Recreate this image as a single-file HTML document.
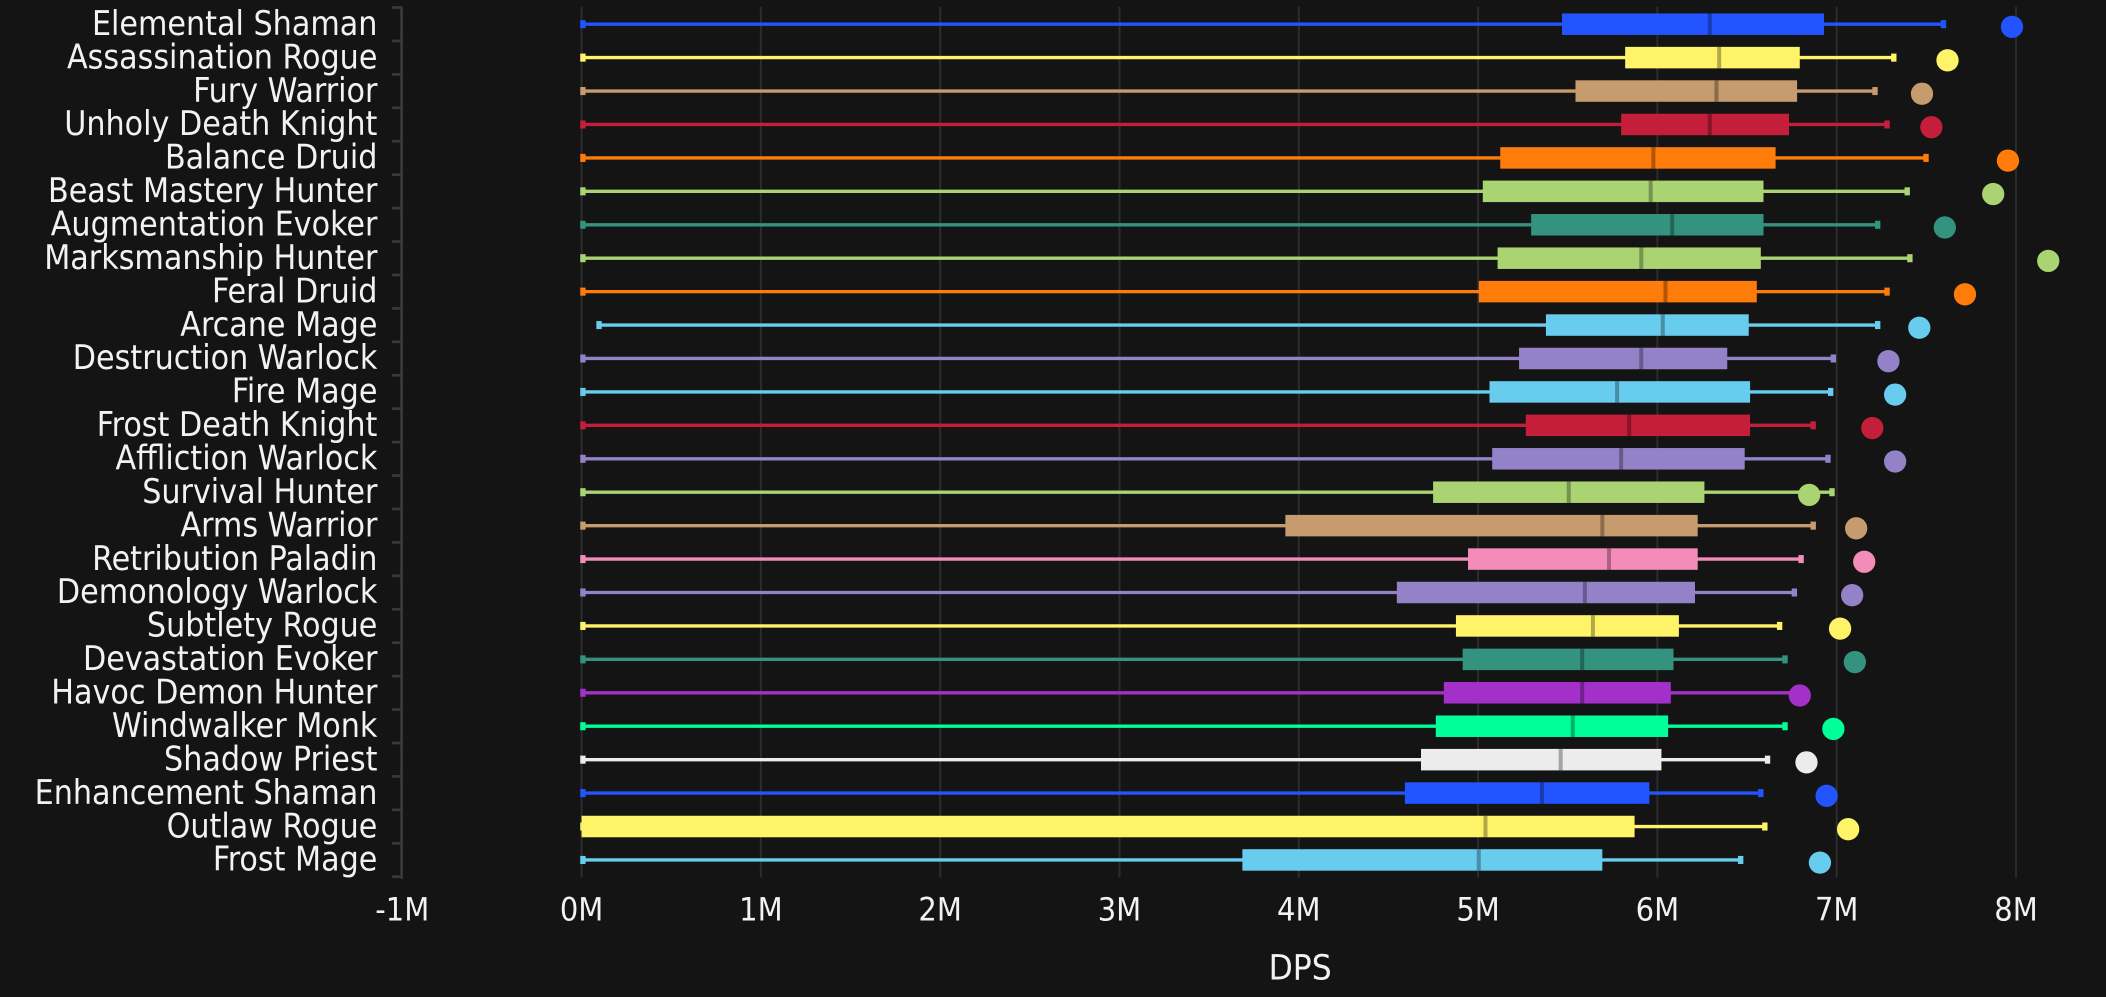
<!DOCTYPE html>
<html><head><meta charset="utf-8"><style>
html,body{margin:0;padding:0;background:#141414;}
svg{display:block;}
text{font-family:"DejaVu Sans Condensed","Liberation Sans Narrow","Liberation Sans",sans-serif;fill:#f2f2f2;}
</style></head><body>
<svg id="s" width="2106" height="997" viewBox="0 0 1568 742" preserveAspectRatio="none" xmlns="http://www.w3.org/2000/svg">
<rect width="1568" height="742" fill="#141414"/>
<g id="g"></g>
</svg>
<script>
const W="#9482c9";
const rows=[
["Elemental Shaman","#2255ff",433,1163,1273,1358,1447,1498],
["Assassination Rogue","#fff468",433,1210,1280,1340,1410,1450],
["Fury Warrior","#c69b6d",433,1173,1278,1338,1396,1431],
["Unholy Death Knight","#c41e3a",433,1207,1273,1332,1405,1438],
["Balance Druid","#ff7c0a",433,1117,1231,1322,1434,1495],
["Beast Mastery Hunter","#aad372",433,1104,1229,1313,1420,1484],
["Augmentation Evoker","#33937f",433,1140,1245,1313,1398,1448],
["Marksmanship Hunter","#aad372",433,1115,1222,1311,1422,1525],
["Feral Druid","#ff7c0a",433,1101,1240,1308,1405,1463],
["Arcane Mage","#68ccef",445,1151,1238,1302,1398,1429],
["Destruction Warlock",W,433,1131,1222,1286,1365,1406],
["Fire Mage","#68ccef",433,1109,1204,1303,1363,1411],
["Frost Death Knight","#c41e3a",433,1136,1213,1303,1350,1394],
["Affliction Warlock",W,433,1111,1207,1299,1361,1411],
["Survival Hunter","#aad372",433,1067,1168,1269,1364,1347],
["Arms Warrior","#c69b6d",433,957,1193,1264,1350,1382],
["Retribution Paladin","#f48cba",433,1093,1198,1264,1341,1388],
["Demonology Warlock",W,433,1040,1180,1262,1336,1379],
["Subtlety Rogue","#fff468",433,1084,1186,1250,1325,1370],
["Devastation Evoker","#33937f",433,1089,1178,1246,1329,1381],
["Havoc Demon Hunter","#a330c9",433,1075,1178,1244,1337,1340],
["Windwalker Monk","#00ff98",433,1069,1171,1242,1329,1365],
["Shadow Priest","#ececec",433,1058,1162,1237,1316,1345],
["Enhancement Shaman","#2255ff",433,1046,1148,1228,1311,1360],
["Outlaw Rogue","#fff468",433,433,1106,1217,1314,1376],
["Frost Mage","#68ccef",433,925,1101,1193,1296,1355]];
let h='';
for(let i=0;i<=8;i++){const x=433+i*133.5;h+=`<line x1="${x}" y1="5" x2="${x}" y2="653" stroke="#2c2c2c" stroke-width="1.5"/>`;}
h+=`<line x1="299" y1="5" x2="299" y2="654" stroke="#3a3a3a" stroke-width="2"/>`;
for(let i=0;i<=26;i++){const y=5.6+i*24.88;h+=`<line x1="292" y1="${y}" x2="299" y2="${y}" stroke="#3a3a3a" stroke-width="2"/>`;}
const labs=["-1M","0M","1M","2M","3M","4M","5M","6M","7M","8M"];
labs.forEach((l,i)=>{h+=`<text x="${299.5+i*133.5}" y="685" font-size="24" text-anchor="middle">${l}</text>`;});
h+=`<text x="968" y="729" font-size="26" text-anchor="middle">DPS</text>`;
rows.forEach((r,i)=>{const y=18+i*24.88;const [n,c,lo,q1,md,q3,hi,dt]=r;
h+=`<text x="281" y="${y+8}" font-size="25" text-anchor="end">${n}</text>`;
h+=`<line x1="${lo}" y1="${y}" x2="${hi}" y2="${y}" stroke="${c}" stroke-width="2.5"/>`;
h+=`<rect x="${lo-1}" y="${y-3}" width="4" height="6" fill="${c}"/><rect x="${hi-2}" y="${y-3}" width="4" height="6" fill="${c}"/>`;
h+=`<rect x="${q1}" y="${y-8}" width="${q3-q1}" height="16" fill="${c}"/>`;
h+=`<rect x="${md-1.5}" y="${y-8}" width="3" height="16" fill="rgba(0,0,0,0.3)"/>`;
h+=`<circle cx="${dt}" cy="${y+2}" r="8.3" fill="${c}"/>`;});
document.getElementById('g').innerHTML=h;
</script>
</body></html>
